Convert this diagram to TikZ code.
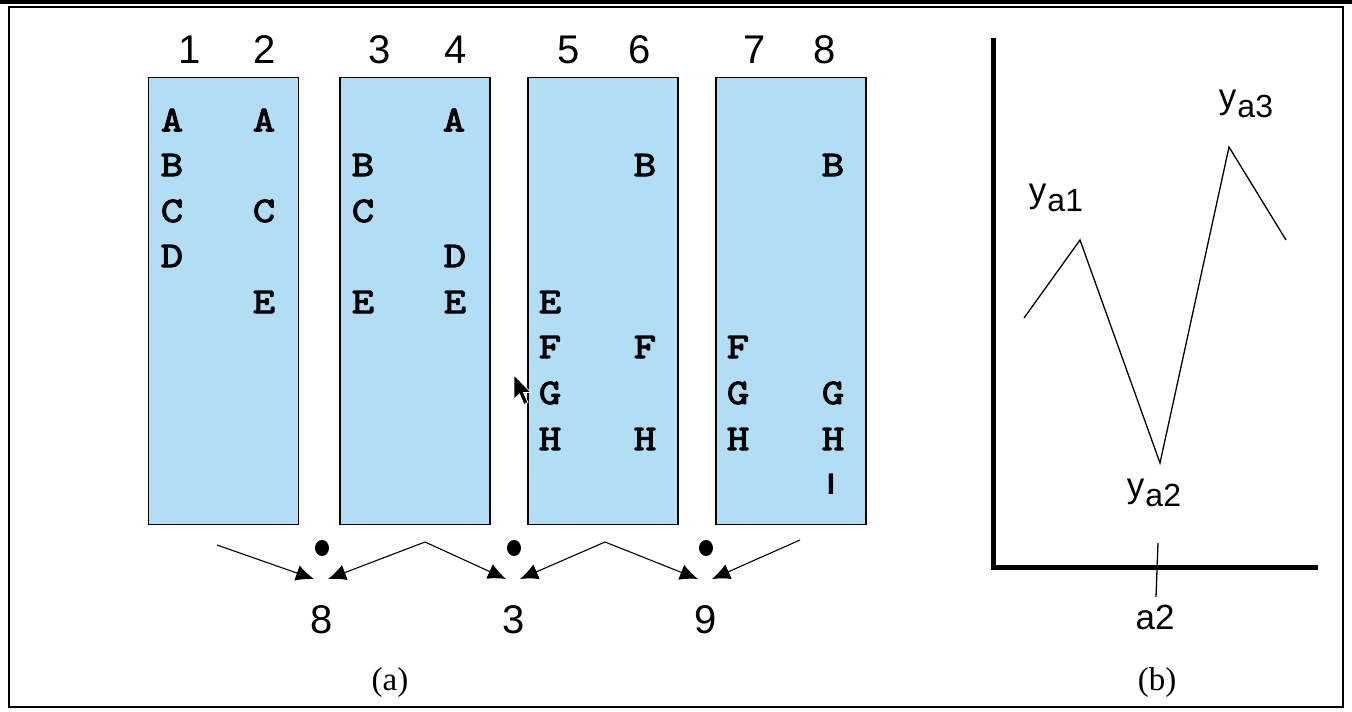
\documentclass[tikz,border=0pt]{standalone}
\usepackage{fontspec}
\setmainfont{Liberation Sans}
\newfontfamily\timesf{Liberation Serif}
\newfontfamily\monob{lmmono10-regular}[Extension=.otf, FakeBold=3, FakeStretch=1.18]
\usetikzlibrary{arrows.meta}
\definecolor{boxblue}{RGB}{178,222,245}
\tikzset{
  colbox/.style={draw=black, line width=1.8pt, fill=boxblue, minimum width=150pt, minimum height=447pt, inner sep=0pt},
  hdr/.style={font=\fontsize{40}{40}\selectfont, inner sep=0pt},
  lt/.style={font=\monob\fontsize{36}{36}\selectfont, inner sep=0pt},
  num/.style={font=\fontsize{40}{40}\selectfont, inner sep=0pt},
  captext/.style={font=\timesf\fontsize{33}{33}\selectfont, inner sep=0pt},
  conn/.style={line width=1.1pt, -{Latex[length=18pt,width=16pt]}},
  axisline/.style={line width=5pt},
  curve/.style={line width=1.3pt},
  ylab/.style={font=\fontsize{35}{35}\selectfont, inner sep=0pt}
}
\newcommand{\ysub}[1]{y\kern1pt\raisebox{-9pt}{\fontsize{32}{32}\selectfont #1}}
\begin{document}
\begin{tikzpicture}[x=1pt,y=-1pt]
\useasboundingbox (0,0) rectangle (1352,712);
% frame
\fill[black] (0,0) rectangle (1352,4);
\draw[line width=1.6pt] (9,7) rectangle (1343,707);
% boxes
\node[colbox] (b1) at (223.5,301) {};
\node[colbox] (b2) at (415,301) {};
\node[colbox] (b3) at (603,301) {};
\node[colbox] (b4) at (791,301) {};
% headers
\node[hdr] (h1) at (190,50) {1};
\node[hdr] (h2) at (265,50) {2};
\node[hdr] (h3) at (380,50) {3};
\node[hdr] (h4) at (456,50) {4};
\node[hdr] (h5) at (569,50) {5};
\node[hdr] (h6) at (640,50) {6};
\node[hdr] (h7) at (755,50) {7};
\node[hdr] (h8) at (825,50) {8};
% column 1
\node[lt] (c1a) at (172,120) {A};
\node[lt] (c1b) at (172,165) {B};
\node[lt] (c1c) at (172,211) {C};
\node[lt] (c1d) at (172,256) {D};
% column 2
\node[lt] (c2a) at (264,120) {A};
\node[lt] (c2c) at (264,211) {C};
\node[lt] (c2e) at (264,302) {E};
% column 3
\node[lt] (c3b) at (363,165) {B};
\node[lt] (c3c) at (363,211) {C};
\node[lt] (c3e) at (363,302) {E};
% column 4
\node[lt] (c4a) at (454,120) {A};
\node[lt] (c4d) at (455,256) {D};
\node[lt] (c4e) at (455,302) {E};
% column 5
\node[lt] (c5e) at (550,302) {E};
\node[lt] (c5f) at (550,347) {F};
\node[lt] (c5g) at (550,393) {G};
\node[lt] (c5h) at (550,439) {H};
% column 6
\node[lt] (c6b) at (645,165) {B};
\node[lt] (c6f) at (645,347) {F};
\node[lt] (c6h) at (645,439) {H};
% column 7
\node[lt] (c7f) at (738,347) {F};
\node[lt] (c7g) at (738,393) {G};
\node[lt] (c7h) at (738,439) {H};
% column 8
\node[lt] (c8b) at (833,165) {B};
\node[lt] (c8g) at (833,393) {G};
\node[lt] (c8h) at (833,439) {H};
\node[font=\bfseries\fontsize{30}{30}\selectfont, inner sep=0pt] (c8i) at (831,484) {I};
% mouse pointer
\filldraw[fill=black, draw=white, line width=0.8pt] (514,375) -- (514,399) -- (519.5,394) -- (524,404.5) -- (528,402.5) -- (523.5,392.5) -- (531,392.5) -- cycle;
% connectors
\coordinate (s1) at (217,545);
\coordinate (p1) at (425,542);
\coordinate (p2) at (605,542);
\coordinate (s4) at (800,540);
\coordinate (t1l) at (314,579);
\coordinate (t1r) at (328,579);
\coordinate (t2l) at (506,579);
\coordinate (t2r) at (520,579);
\coordinate (t3l) at (698,579);
\coordinate (t3r) at (712,579);
\draw[conn] (s1) -- (t1l);
\draw[conn] (p1) -- (t1r);
\draw[conn] (p1) -- (t2l);
\draw[conn] (p2) -- (t2r);
\draw[conn] (p2) -- (t3l);
\draw[conn] (s4) -- (t3r);
\fill (322,548) ellipse (7pt and 8pt);
\fill (514,548) ellipse (7pt and 8pt);
\fill (706,548) ellipse (7pt and 8pt);
\node[num] (n8) at (322,620) {8};
\node[num] (n3) at (514,620) {3};
\node[num] (n9) at (706,620) {9};
\node[captext] (capa) at (390,683) {(a)};
% graph (b)
\coordinate (ytop) at (993,38);
\coordinate (org) at (993,567);
\coordinate (xend) at (1318,567);
\draw[axisline] (ytop) -- (org) -- (xend);
\coordinate (q0) at (1024,318);
\coordinate (q1) at (1080,240);
\coordinate (q2) at (1160,463);
\coordinate (q3) at (1229,147);
\coordinate (q4) at (1286,240);
\draw[curve] (q0) -- (q1) -- (q2) -- (q3) -- (q4);
\coordinate (tk1) at (1158,543);
\coordinate (tk2) at (1156,597);
\draw[curve] (tk1) -- (tk2);
\node[ylab] (ya1) at (1056,198) {\ysub{a1}};
\node[ylab] (ya3) at (1246,104) {\ysub{a3}};
\node[ylab] (ya2) at (1154,493) {\ysub{a2}};
\node[ylab] (la2) at (1155,617) {a2};
\node[captext] (capb) at (1157,683) {(b)};
\end{tikzpicture}
\end{document}
